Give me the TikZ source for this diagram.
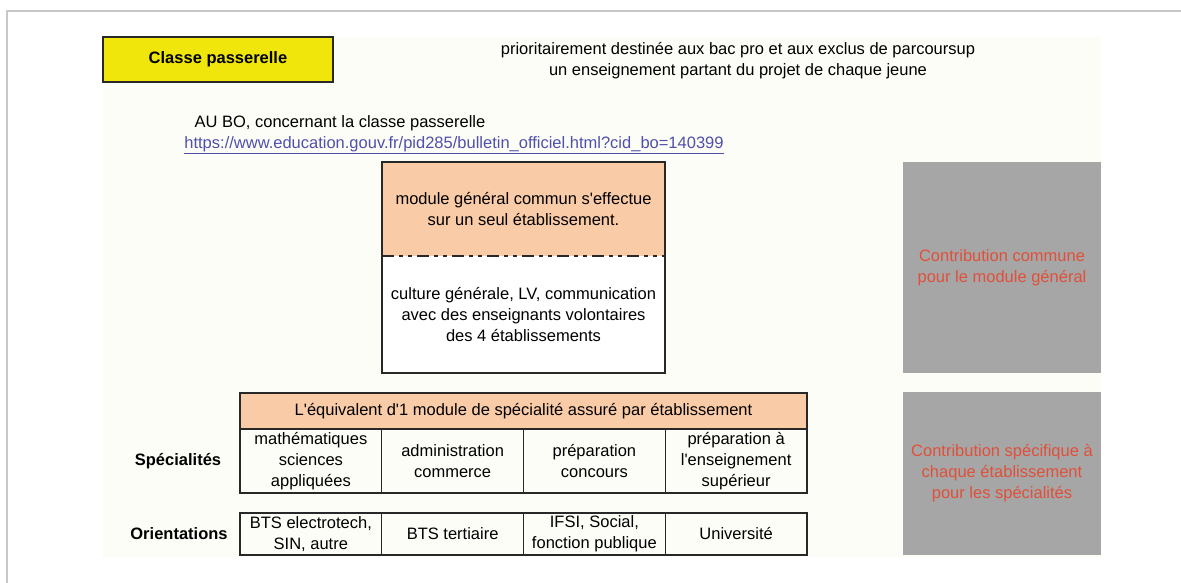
\documentclass[tikz,border=0pt]{standalone}
\usepackage{fontspec}
\setmainfont{Liberation Sans}
\usetikzlibrary{positioning}

\definecolor{passyellow}{RGB}{240,230,12}
\definecolor{peach}{RGB}{250,203,167}
\definecolor{contribgrey}{RGB}{166,166,166}
\definecolor{contribred}{RGB}{224,80,58}
\definecolor{linkblue}{RGB}{80,80,172}
\definecolor{paper}{RGB}{253,253,248}
\definecolor{framegrey}{RGB}{200,200,200}
\definecolor{edge}{RGB}{40,40,40}

\newcommand\apos{\textquotesingle}

\begin{document}
\begin{tikzpicture}[x=1pt, y=-1pt,
  txt/.style={font=\fontsize{16.5}{21}\selectfont, align=center, inner sep=0pt, outer sep=0pt},
  boldtxt/.style={txt, font=\fontsize{16.5}{21}\selectfont\bfseries},
  titlebox/.style={boldtxt, draw=edge, line width=1.2pt, fill=passyellow, minimum width=230, minimum height=45},
  linktxt/.style={txt, text=linkblue},
  cell/.style={txt, draw=edge, line width=1.2pt, minimum width=141.75, minimum height=64},
  headcell/.style={cell, fill=peach, minimum width=567, minimum height=36},
  orientcell/.style={cell, minimum height=42},
  contrib/.style={txt, fill=contribgrey, text=contribred, minimum width=198},
  dashdotdot/.style={edge, line width=1.3pt, dash pattern=on 12pt off 5pt on 4pt off 5pt on 4pt off 5pt}
]
  \useasboundingbox (0,0) rectangle (1181,583);

  % frame and paper
  \fill[paper] (103,37) rectangle (1101,557);
  \draw[framegrey, line width=1.5pt] (7,583) -- (7,11) -- (1181,11);

  % heading
  \node[titlebox] (classe) at (218,59.5) {Classe passerelle};
  \node[txt] (publics) at (738,61) {prioritairement destinée aux bac pro et aux exclus de parcoursup\\
    un enseignement partant du projet de chaque jeune};
  \node[txt] (bo) at (340,123) {AU BO, concernant la classe passerelle};
  \node[linktxt] (lien) at (454,145) {\underline{https://www.education.gouv.fr/pid285/bulletin\_officiel.html?cid\_bo=140399}};

  % module general
  \node[txt, fill=peach, minimum width=283, minimum height=94] (modgen) at (523.5,209)
    {module général commun s\apos effectue\\sur un seul établissement.};
  \node[txt, fill=white, minimum width=283, minimum height=117, below=0pt of modgen] (culture)
    {culture générale, LV, communication\\avec des enseignants volontaires\\des 4 établissements};
  \draw[dashdotdot] (modgen.south west) -- (modgen.south east);
  \draw[edge, line width=1.2pt] (modgen.north west) rectangle (culture.south east);

  % specialites
  \node[headcell] (equiv) at (523.5,411) {L\apos équivalent d\apos 1 module de spécialité assuré par établissement};
  \node[cell, below right=0pt of equiv.south west] (spe1) {mathématiques\\sciences\\appliquées};
  \node[cell, right=0pt of spe1] (spe2) {administration\\commerce};
  \node[cell, right=0pt of spe2] (spe3) {préparation\\concours};
  \node[cell, right=0pt of spe3] (spe4) {préparation à\\l\apos enseignement\\supérieur};
  \node[boldtxt] (spelab) at (178,461) {Spécialités};

  % orientations
  \node[orientcell, anchor=north west] (ori1) at (240,513) {BTS electrotech,\\SIN, autre};
  \node[orientcell, right=0pt of ori1] (ori2) {BTS tertiaire};
  \node[orientcell, right=0pt of ori2] (ori3) {IFSI, Social,\\fonction publique};
  \node[orientcell, right=0pt of ori3] (ori4) {Université};
  \node[boldtxt] (orilab) at (179,534) {Orientations};

  % contributions
  \node[contrib, minimum height=211] (commune) at (1002,267.5)
    {Contribution commune\\pour le module général};
  \node[contrib, minimum height=163] (specifique) at (1002,473.5)
    {Contribution spécifique à\\chaque établissement\\pour les spécialités};
\end{tikzpicture}
\end{document}
